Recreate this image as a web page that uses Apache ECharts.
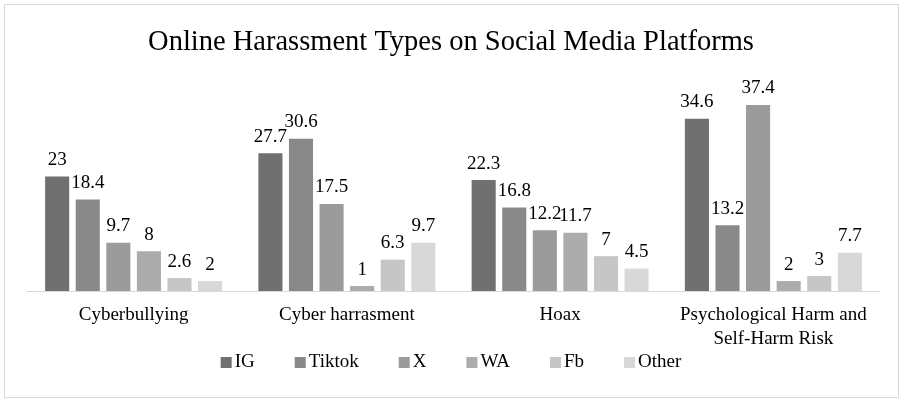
<!DOCTYPE html>
<html>
<head>
<meta charset="utf-8">
<script src="https://cdn.jsdelivr.net/npm/echarts@6/dist/echarts.min.js"></script>
<style>
  html, body { margin: 0; padding: 0; background: #fff; }
  #frame { position: absolute; left: 4px; top: 4px; width: 893px; height: 392px; border: 1px solid #d9d9d9; }
  #main { width: 902px; height: 406px; }
</style>
</head>
<body>
<div id="frame"></div>
<div id="main"></div>
<script>
var categories = ['Cyberbullying', 'Cyber harrasment', 'Hoax', 'Psychological Harm and\nSelf-Harm Risk'];
var seriesNames = ['IG', 'Tiktok', 'X', 'WA', 'Fb', 'Other'];
var igValues = [23, 27.7, 22.3, 34.6];
var tiktokValues = [18.4, 30.6, 16.8, 13.2];
var xValues = [9.7, 17.5, 12.2, 37.4];
var waValues = [8, 1, 11.7, 2];
var fbValues = [2.6, 6.3, 7, 3];
var otherValues = [2, 9.7, 4.5, 7.7];
var seriesColors = ['#707070', '#898989', '#9b9b9b', '#acacac', '#c6c6c6', '#d8d8d8'];

var font = 'Liberation Serif, DejaVu Serif, Tinos, Times, serif';
var allValues = [igValues, tiktokValues, xValues, waValues, fbValues, otherValues];

var chart = echarts.init(document.getElementById('main'), null, { renderer: 'canvas' });

var series = seriesNames.map(function (name, i) {
    return {
        name: name,
        type: 'bar',
        data: allValues[i],
        barGap: '27%',
        barCategoryGap: '17%',
        itemStyle: { color: seriesColors[i] },
        label: {
            show: true,
            position: 'top',
            distance: 7,
            fontFamily: font,
            fontSize: 19,
            color: '#000'
        }
    };
});

chart.setOption({
    animation: false,
    textStyle: { fontFamily: font },
    title: {
        text: 'Online Harassment Types on Social Media Platforms',
        left: 'center',
        top: 23,
        textStyle: { fontFamily: font, fontSize: 28.5, fontWeight: 'normal', color: '#000' }
    },
    legend: {
        data: seriesNames,
        bottom: 29,
        left: 'center',
        itemWidth: 11,
        itemHeight: 11,
        itemGap: 40,
        icon: 'rect',
        textStyle: { fontFamily: font, fontSize: 19, color: '#000', padding: [0, 0, 0, -2] }
    },
    grid: {
        left: 27,
        right: 22,
        top: 92,
        bottom: 115
    },
    xAxis: {
        type: 'category',
        data: categories,
        axisLine: { lineStyle: { color: '#d9d9d9' } },
        axisTick: { show: false },
        axisLabel: {
            fontFamily: font,
            fontSize: 19,
            color: '#000',
            margin: 12,
            lineHeight: 24,
            interval: 0
        }
    },
    yAxis: {
        type: 'value',
        min: 0,
        max: 40,
        show: false,
        splitLine: { show: false }
    },
    series: series
});
</script>
</body>
</html>
